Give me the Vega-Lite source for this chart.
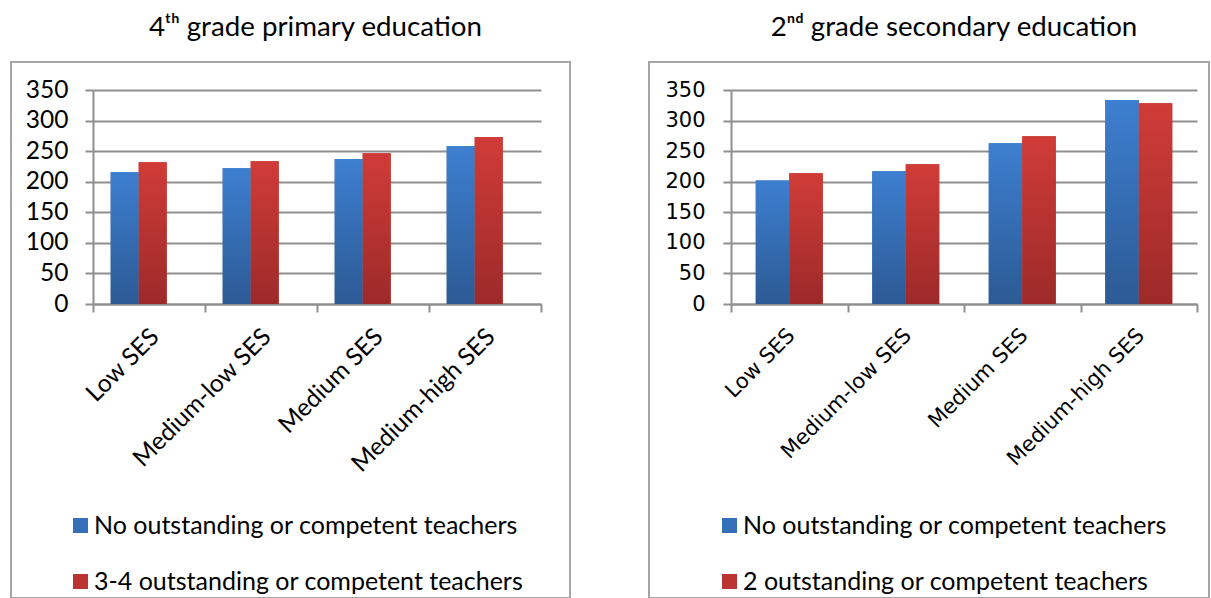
{
  "$schema": "https://vega.github.io/schema/vega-lite/v6.json",
  "padding": {"left": 0, "top": 13, "right": 0, "bottom": 0},
  "background": "white",
  "config": {
    "view": {"stroke": "#a6a6a6", "strokeWidth": 2},
    "font": "Lato",
    "title": {"font": "Lato", "fontSize": 27.7, "fontWeight": "normal", "color": "#000000", "anchor": "middle", "offset": 20, "baseline": "alphabetic"}
  },
  "datasets": {
    "primary": [
      {"ses": "Low SES", "series": "No outstanding or competent teachers", "score": 215.5},
      {"ses": "Low SES", "series": "3-4 outstanding or competent teachers", "score": 232},
      {"ses": "Medium-low SES", "series": "No outstanding or competent teachers", "score": 222},
      {"ses": "Medium-low SES", "series": "3-4 outstanding or competent teachers", "score": 233.5},
      {"ses": "Medium SES", "series": "No outstanding or competent teachers", "score": 237},
      {"ses": "Medium SES", "series": "3-4 outstanding or competent teachers", "score": 246.5},
      {"ses": "Medium-high SES", "series": "No outstanding or competent teachers", "score": 258},
      {"ses": "Medium-high SES", "series": "3-4 outstanding or competent teachers", "score": 273}
    ],
    "secondary": [
      {"ses": "Low SES", "series": "No outstanding or competent teachers", "score": 202},
      {"ses": "Low SES", "series": "2 outstanding or competent teachers", "score": 214},
      {"ses": "Medium-low SES", "series": "No outstanding or competent teachers", "score": 217},
      {"ses": "Medium-low SES", "series": "2 outstanding or competent teachers", "score": 228.5},
      {"ses": "Medium SES", "series": "No outstanding or competent teachers", "score": 263},
      {"ses": "Medium SES", "series": "2 outstanding or competent teachers", "score": 274.5},
      {"ses": "Medium-high SES", "series": "No outstanding or competent teachers", "score": 333.5},
      {"ses": "Medium-high SES", "series": "2 outstanding or competent teachers", "score": 328.5}
    ]
  },
  "hconcat": [
    {
      "title": {"text": "4ᵗʰ grade primary education", "dx": 25},
      "width": 559,
      "height": 536,
      "data": {"name": "primary"},
      "encoding": {
        "x": {
          "field": "ses", "type": "nominal",
          "sort": ["Low SES", "Medium-low SES", "Medium SES", "Medium-high SES"],
          "scale": {"range": [82, 530], "paddingInner": 0, "paddingOuter": 0},
          "axis": {
            "title": null, "orient": "bottom", "offset": -294,
            "tickBand": "extent", "tickSize": 8, "tickColor": "#8f8f8f", "tickWidth": 2,
            "domainColor": "#8f8f8f", "domainWidth": 2, "grid": false,
            "labelAngle": -45, "labelAlign": "right", "labelBaseline": "middle",
            "labelPadding": 21, "labelOffset": 6, "labelLimit": 400,
            "labelFont": "Lato", "labelFontSize": 24.5, "labelColor": "#000000"
          }
        },
        "xOffset": {
          "field": "series", "type": "nominal",
          "sort": ["No outstanding or competent teachers", "3-4 outstanding or competent teachers"],
          "scale": {"paddingInner": 0, "paddingOuter": 1.196, "align": 0.316}
        },
        "y": {
          "field": "score", "type": "quantitative",
          "scale": {"domain": [0, 350], "range": [242, 28], "nice": false},
          "axis": {
            "title": null, "orient": "left", "offset": -82,
            "values": [0, 50, 100, 150, 200, 250, 300, 350],
            "tickSize": 8, "tickColor": "#8f8f8f", "tickWidth": 2,
            "domainColor": "#8f8f8f", "domainWidth": 2,
            "grid": true, "gridColor": "#8f8f8f", "gridWidth": 2,
            "labelPadding": 17, "labelFont": "Lato", "labelFontSize": 24.5, "labelColor": "#000000"
          }
        }
      },
      "layer": [
        {
          "mark": {"type": "bar"},
          "encoding": {
            "color": {
              "field": "series", "type": "nominal",
              "scale": {
                "domain": ["No outstanding or competent teachers", "3-4 outstanding or competent teachers"],
                "range": ["#356fb8", "#bb3431"]
              },
              "legend": {
                "title": null, "orient": "none", "legendX": 57, "legendY": 451, "padding": 0,
                "symbolType": "square", "symbolSize": 225, "symbolStrokeWidth": 0, "symbolOpacity": 1,
                "labelFont": "Lato", "labelFontSize": 25, "labelColor": "#000000",
                "labelOffset": 1, "rowPadding": 30, "labelLimit": 600
              }
            }
          }
        },
        {
          "mark": {"type": "bar"},
          "encoding": {
            "color": {
              "condition": {
                "test": "datum.series === 'No outstanding or competent teachers'",
                "value": {"gradient": "linear", "x1": 0, "y1": 0, "x2": 0, "y2": 1, "stops": [{"offset": 0, "color": "#3d7fd0"}, {"offset": 1, "color": "#2c5a94"}]}
              },
              "value": {"gradient": "linear", "x1": 0, "y1": 0, "x2": 0, "y2": 1, "stops": [{"offset": 0, "color": "#d03c38"}, {"offset": 1, "color": "#9c2a29"}]}
            }
          }
        }
      ]
    },
    {
      "title": {"text": "2ⁿᵈ grade secondary education", "dx": 25},
      "width": 560,
      "height": 536,
      "data": {"name": "secondary"},
      "encoding": {
        "x": {
          "field": "ses", "type": "nominal",
          "sort": ["Low SES", "Medium-low SES", "Medium SES", "Medium-high SES"],
          "scale": {"range": [82, 548], "paddingInner": 0, "paddingOuter": 0},
          "axis": {
            "title": null, "orient": "bottom", "offset": -294,
            "tickBand": "extent", "tickSize": 8, "tickColor": "#8f8f8f", "tickWidth": 2,
            "domainColor": "#8f8f8f", "domainWidth": 2, "grid": false,
            "labelAngle": -45, "labelAlign": "right", "labelBaseline": "middle",
            "labelPadding": 20, "labelOffset": 2, "labelLimit": 400,
            "labelFont": "DejaVu Sans", "labelFontSize": 21, "labelColor": "#000000"
          }
        },
        "xOffset": {
          "field": "series", "type": "nominal",
          "sort": ["No outstanding or competent teachers", "2 outstanding or competent teachers"],
          "scale": {"paddingInner": 0, "paddingOuter": 0.739}
        },
        "y": {
          "field": "score", "type": "quantitative",
          "scale": {"domain": [0, 350], "range": [242, 28], "nice": false},
          "axis": {
            "title": null, "orient": "left", "offset": -82,
            "values": [0, 50, 100, 150, 200, 250, 300, 350],
            "tickSize": 8, "tickColor": "#8f8f8f", "tickWidth": 2,
            "domainColor": "#8f8f8f", "domainWidth": 2,
            "grid": true, "gridColor": "#8f8f8f", "gridWidth": 2,
            "labelPadding": 18, "labelFont": "DejaVu Sans", "labelFontSize": 21, "labelColor": "#000000"
          }
        }
      },
      "layer": [
        {
          "mark": {"type": "bar"},
          "encoding": {
            "color": {
              "field": "series", "type": "nominal",
              "scale": {
                "domain": ["No outstanding or competent teachers", "2 outstanding or competent teachers"],
                "range": ["#356fb8", "#bb3431"]
              },
              "legend": {
                "title": null, "orient": "none", "legendX": 68, "legendY": 451, "padding": 0,
                "symbolType": "square", "symbolSize": 225, "symbolStrokeWidth": 0, "symbolOpacity": 1,
                "labelFont": "Lato", "labelFontSize": 25, "labelColor": "#000000",
                "labelOffset": 1, "rowPadding": 30, "labelLimit": 600
              }
            }
          }
        },
        {
          "mark": {"type": "bar"},
          "encoding": {
            "color": {
              "condition": {
                "test": "datum.series === 'No outstanding or competent teachers'",
                "value": {"gradient": "linear", "x1": 0, "y1": 0, "x2": 0, "y2": 1, "stops": [{"offset": 0, "color": "#3d7fd0"}, {"offset": 1, "color": "#2c5a94"}]}
              },
              "value": {"gradient": "linear", "x1": 0, "y1": 0, "x2": 0, "y2": 1, "stops": [{"offset": 0, "color": "#d03c38"}, {"offset": 1, "color": "#9c2a29"}]}
            }
          }
        }
      ]
    }
  ],
  "spacing": 69,
  "resolve": {"scale": {"color": "independent", "x": "independent", "y": "independent", "xOffset": "independent"}, "legend": {"color": "independent"}}
}
